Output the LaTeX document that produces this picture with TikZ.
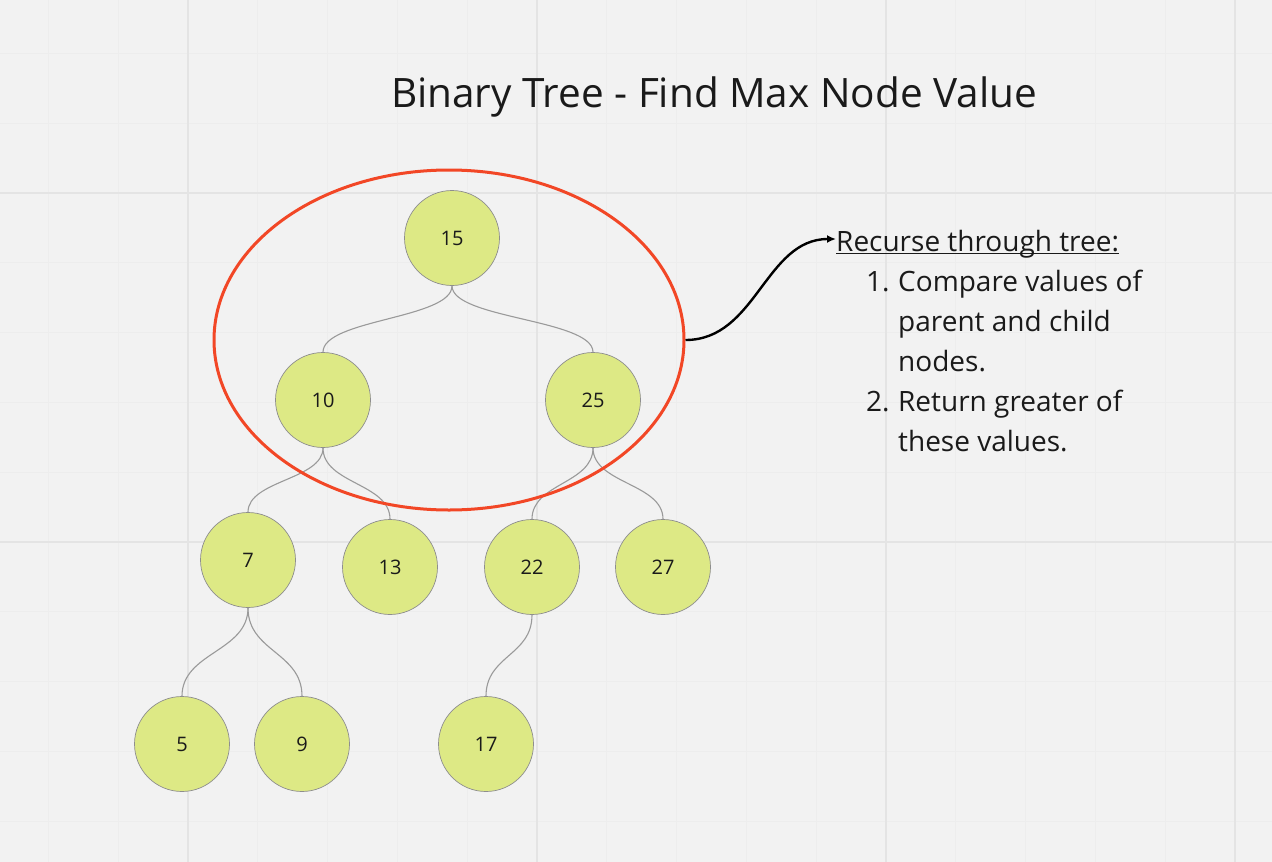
\documentclass[tikz,border=0pt]{standalone}
\usepackage{fontspec}
\setmainfont{Open Sans}
\usetikzlibrary{shapes.geometric,arrows.meta,positioning}
\definecolor{board}{HTML}{F2F2F2}
\definecolor{minorline}{HTML}{EDEDED}
\definecolor{majorline}{HTML}{E4E4E4}
\definecolor{keyfill}{HTML}{DDE985}
\definecolor{keyedge}{HTML}{8E8E8E}
\definecolor{linkgray}{HTML}{9A9A9A}
\definecolor{scopered}{HTML}{F24726}
\definecolor{ink}{HTML}{1A1A1A}
\newcommand{\ulined}[1]{\setbox0=\hbox{#1}\rlap{\rule[-3pt]{\wd0}{1.5pt}}\box0}

\begin{document}
\begin{tikzpicture}[x=1pt, y=1pt, on grid,
    key/.style={circle, draw=keyedge, fill=keyfill, line width=0.7pt, minimum size=95pt, inner sep=0pt, text=ink, font=\fontsize{20}{24}\selectfont},
    link/.style={draw=linkgray, line width=1.1pt},
    note/.style={inner sep=0pt, text=ink, align=left, font=\fontsize{28}{40}\selectfont}]
    \useasboundingbox[fill=board] (0,0) rectangle (1272,-862);
    \foreach \i in {-2,...,15} \draw[minorline, line width=1pt] ({188+69.8*\i},0) -- ({188+69.8*\i},-862);
    \foreach \i in {-2,...,9} \draw[minorline, line width=1pt] (0,{-193-69.8*\i}) -- (1272,{-193-69.8*\i});
    \foreach \gx in {188,537,886,1235} \draw[majorline, line width=2pt] (\gx,0) -- (\gx,-862);
    \foreach \gy in {193,542} \draw[majorline, line width=2pt] (0,-\gy) -- (1272,-\gy);

    \node[text=ink, font=\fontsize{40.5}{48}\selectfont, anchor=base] (title) at (714,-107) {Binary Tree - Find Max Node Value};

    \node[key] (n15) at (452,-238) {15};
    \node[key, below left=162pt and 129pt of n15] (n10) {10};
    \node[key, below right=162pt and 141pt of n15] (n25) {25};
    \node[key, below left=160pt and 75pt of n10] (n7) {7};
    \node[key, below right=167pt and 67pt of n10] (n13) {13};
    \node[key, below left=167pt and 61pt of n25] (n22) {22};
    \node[key, below right=167pt and 70pt of n25] (n27) {27};
    \node[key, below left=184pt and 66pt of n7] (n5) {5};
    \node[key, below right=184pt and 54pt of n7] (n9) {9};
    \node[key, below left=177pt and 46pt of n22] (n17) {17};

    \foreach \a/\b/\d in {n15/n10/33, n15/n25/33, n10/n7/32, n10/n13/36, n25/n22/36, n25/n27/36, n7/n5/44, n7/n9/44, n22/n17/41}
        \draw[link] (\a.south) to[out=-90, in=90, distance=\d pt] (\b.north);

    \node[ellipse, draw=scopered, line width=3pt, minimum width=470pt, minimum height=340pt, inner sep=0pt] (focus) at (449,-340) {};

    \node[note, anchor=base west] (head) at (836,-251) {\ulined{Recurse through tree:}};
    \node[note, anchor=base west] (steps) at ([xshift=30pt, yshift=-200pt]head.base west) {%
        \makebox[32pt][l]{1.}Compare values of\\
        \hspace*{32pt}parent and child\\
        \hspace*{32pt}nodes.\\
        \makebox[32pt][l]{2.}Return greater of\\
        \hspace*{32pt}these values.};

    \draw[-{Latex[length=9pt, width=8pt]}, line width=2.4pt] (focus.east) to[out=0, in=180] ([yshift=12pt]head.base west);
\end{tikzpicture}
\end{document}
